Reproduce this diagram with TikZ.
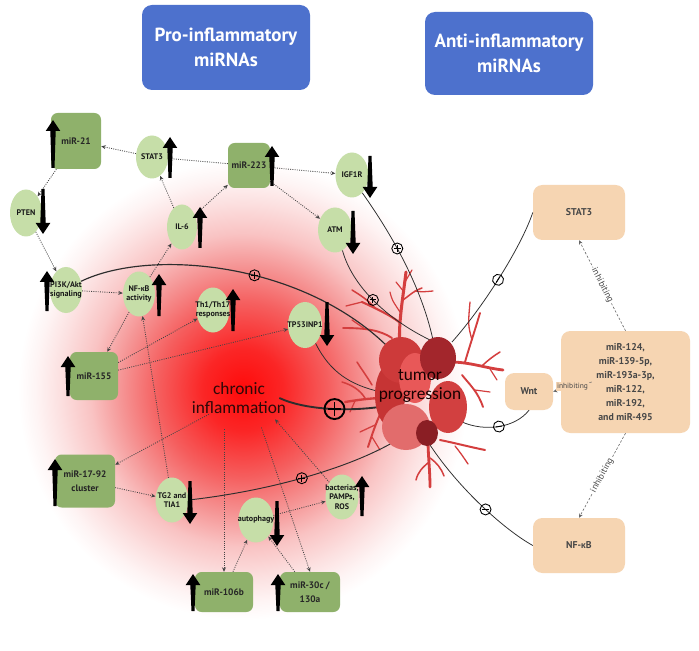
\documentclass[tikz,border=0pt]{standalone}
\usepackage{fontspec}
\setmainfont{PT Sans}
\newfontfamily\calib{Carlito}
\newfontfamily\grk{Carlito}
\usetikzlibrary{shapes.geometric,arrows.meta,calc}
\definecolor{gdark}{RGB}{143,177,107}
\definecolor{glight}{RGB}{198,222,168}
\definecolor{peach}{RGB}{246,213,178}
\definecolor{tblue}{RGB}{77,113,205}
\definecolor{dotc}{RGB}{68,68,68}
\definecolor{linec}{RGB}{45,45,45}
\definecolor{vess}{RGB}{212,62,62}
\definecolor{chrc}{RGB}{45,8,8}
\definecolor{glowA}{RGB}{255,10,10}
\definecolor{glowB}{RGB}{251,38,38}
\definecolor{glowC}{RGB}{245,95,95}
\definecolor{glowD}{RGB}{245,148,148}
\definecolor{glowE}{RGB}{249,195,195}
\definecolor{glowF}{RGB}{252,225,225}
\definecolor{glowG}{RGB}{254,244,244}
\definecolor{blobA}{RGB}{205,58,58}
\definecolor{blobB}{RGB}{163,38,44}
\definecolor{blobC}{RGB}{232,88,88}
\definecolor{blobD}{RGB}{198,52,52}
\definecolor{blobE}{RGB}{210,64,64}
\definecolor{blobF}{RGB}{226,108,108}
\definecolor{blobG}{RGB}{138,30,36}
\pgfdeclareradialshading{glow}{\pgfpoint{0bp}{0bp}}{color(0bp)=(glowA); color(4.5bp)=(glowB); color(9.5bp)=(glowC); color(13.5bp)=(glowD); color(17bp)=(glowE); color(20.5bp)=(glowF); color(23bp)=(glowG); color(25bp)=(white); color(50bp)=(white)}
\newcommand\bigarr[3]{%
  \pgfmathsetmacro\hb{#3+11*sign(#2-#3)}%
  \fill[black] (#1-1.5,#2) -- (#1+1.5,#2) -- (#1+2.7,\hb) -- (#1+7.3,\hb) -- (#1,#3) -- (#1-7.3,\hb) -- (#1-2.7,\hb) -- cycle;}
\newcommand\blob[5]{\fill[#5] (#1,#2) ellipse [x radius=#3*0.03cm, y radius=#4*0.03cm];}
\tikzset{
  gbox/.style={rectangle, rounded corners=0.2cm, fill=gdark, inner sep=0pt, align=center,
    font=\bfseries\fontsize{8}{12}\selectfont, text=black!85},
  lel/.style={ellipse, fill=glight, draw=none, inner sep=0pt},
  lab/.style={font=\bfseries\fontsize{6.9}{8}\selectfont, align=center, text=black!90, inner sep=0pt},
  pbox/.style={rectangle, rounded corners=0.28cm, fill=peach, inner sep=0pt, align=center,
    font=\bfseries\fontsize{8.4}{12}\selectfont, text=black!72},
  tbox/.style={rectangle, rounded corners=0.3cm, fill=tblue, text=white, inner sep=0pt, align=center,
    font=\bfseries\fontsize{16.2}{21}\selectfont},
  dotarr/.style={draw=dotc, line width=0.7pt, dash pattern=on 0.8pt off 1.1pt, -{Stealth[length=3.8pt,width=3.4pt]}},
  inharr/.style={draw=black!60, line width=0.5pt, dash pattern=on 2pt off 1.5pt, -{Stealth[length=3.6pt,width=3.2pt]}},
  inhlab/.style={font=\fontsize{7.8}{8}\selectfont, text=black!72, fill=white, inner sep=1pt},
  sline/.style={draw=linec, line width=0.65pt},
  vessel/.style={draw=vess, line cap=round, line join=round},
  sgn/.style={circle, draw=black, line width=0.75pt, inner sep=0pt, minimum size=0.33cm},
  splus/.style={sgn, path picture={\draw[line width=0.75pt]
     ([xshift=-0.1cm]path picture bounding box.center) -- ([xshift=0.1cm]path picture bounding box.center)
     ([yshift=-0.1cm]path picture bounding box.center) -- ([yshift=0.1cm]path picture bounding box.center);}},
  sminus/.style={sgn, path picture={\draw[line width=0.75pt]
     ([xshift=-0.1cm]path picture bounding box.center) -- ([xshift=0.1cm]path picture bounding box.center);}},
  bplus/.style={circle, draw=black, line width=1.6pt, inner sep=0pt, minimum size=0.6cm,
     path picture={\draw[line width=1.5pt]
     ([xshift=-0.2cm]path picture bounding box.center) -- ([xshift=0.2cm]path picture bounding box.center)
     ([yshift=-0.2cm]path picture bounding box.center) -- ([yshift=0.2cm]path picture bounding box.center);}},
}
\begin{document}
\begin{tikzpicture}[x=0.03cm,y=-0.03cm]
\useasboundingbox (0,0) rectangle (699,651);
\fill[white] (0,0) rectangle (699,651);
% red glow
\shade[shading=glow] (243,390) ellipse [x radius=6.75cm, y radius=6.9cm];

% titles
\node[tbox, minimum width=168*0.03cm, minimum height=85*0.03cm] (pro) at (226,47.5) {Pro-inflammatory\\miRNAs};
\node[tbox, minimum width=168*0.03cm, minimum height=83*0.03cm] (anti) at (509,53.5) {Anti-inflammatory\\miRNAs};

% green boxes
\node[gbox, minimum width=50*0.03cm, minimum height=56*0.03cm] (m21) at (76,141) {miR-21};
\node[gbox, minimum width=42*0.03cm, minimum height=45*0.03cm] (m223) at (249,165.5) {miR-223};
\node[gbox, minimum width=48*0.03cm, minimum height=48*0.03cm] (m155) at (94,376) {miR-155};
\node[gbox, minimum width=60*0.03cm, minimum height=53*0.03cm] (m1792) at (85,481) {miR-17-92\\cluster};
\node[gbox, minimum width=58*0.03cm, minimum height=40*0.03cm] (m106) at (224,592) {miR-106b};
\node[gbox, minimum width=60*0.03cm, minimum height=40*0.03cm, font=\bfseries\fontsize{8}{11.5}\selectfont] (m30) at (310,592) {miR-30c /\\130a};

% light ellipses
\node[lel, minimum width=32*0.03cm, minimum height=43*0.03cm, label={[lab]center:STAT3}] (stat3) at (152,157) {};
\node[lel, minimum width=32*0.03cm, minimum height=47*0.03cm, label={[lab]center:PTEN}] (pten) at (26,213) {};
\node[lel, minimum width=30*0.03cm, minimum height=45*0.03cm, label={[lab]center:IL-6}] (il6) at (182,227) {};
\node[lel, minimum width=32*0.03cm, minimum height=46*0.03cm, label={[lab]center:PI3K/Akt\\signaling}] (pi3k) at (66,290) {};
\node[lel, minimum width=32*0.03cm, minimum height=45*0.03cm, label={[lab]center:NF-{\grk κ}B\\activity}] (nfkb) at (139,294) {};
\node[lel, minimum width=33*0.03cm, minimum height=45*0.03cm, label={[lab]center:Th1/Th17\\responses}] (th) at (213,310) {};
\node[lel, minimum width=34*0.03cm, minimum height=46*0.03cm, label={[lab]center:TP53INP1}] (tp53) at (305,325) {};
\node[lel, minimum width=33*0.03cm, minimum height=45*0.03cm, label={[lab]center:IGF1R}] (igf) at (352,175) {};
\node[lel, minimum width=34*0.03cm, minimum height=45*0.03cm, label={[lab]center:ATM}] (atm) at (335,230) {};
\node[lel, minimum width=33*0.03cm, minimum height=45*0.03cm, label={[lab]center:TG2 and\\TIA1}] (tg2) at (172,500) {};
\node[lel, minimum width=35*0.03cm, minimum height=45*0.03cm, label={[lab]center:autophagy}] (auto) at (256,520) {};
\node[lel, minimum width=33*0.03cm, minimum height=45*0.03cm, label={[lab]center:bacterias,\\PAMPs,\\ROS}] (bact) at (342,497) {};

% tan boxes
\node[pbox, minimum width=92*0.03cm, minimum height=55*0.03cm] (tstat) at (579,212.5) {STAT3};
\node[pbox, minimum width=48*0.03cm, minimum height=37*0.03cm] (wnt) at (529,391.5) {Wnt};
\node[pbox, minimum width=129*0.03cm, minimum height=102*0.03cm] (mlist) at (625.5,382) {miR-124,\\miR-139-5p,\\miR-193a-3p,\\miR-122,\\miR-192,\\and miR-495};
\node[pbox, minimum width=92*0.03cm, minimum height=55*0.03cm] (tnf) at (579,545.5) {NF-{\grk κ}B};

% chronic inflammation
\node[font=\calib\fontsize{14.8}{17}\selectfont, text=chrc, align=center, inner sep=0pt] (chronic) at (239,398) {chronic\\inflammation};

% dotted arrows
\draw[dotarr] (stat3) -- (m21);
\draw[dotarr] (m223) -- (stat3);
\draw[dotarr] (m223) -- (igf);
\draw[dotarr] (m223) -- (atm);
\draw[dotarr] (il6) -- (m223);
\draw[dotarr] (il6) -- (stat3);
\draw[dotarr] (m21) -- (pten);
\draw[dotarr] (pten) -- (pi3k);
\draw[dotarr] (pi3k) -- (nfkb);
\draw[dotarr] (nfkb) -- (il6);
\draw[dotarr] (nfkb) -- (m155);
\draw[dotarr] (m155) -- (th);
\draw[dotarr] (m155) -- (tp53);
\draw[dotarr] (tg2) -- (nfkb);
\draw[dotarr] (chronic) -- (m1792);
\draw[dotarr] (m1792) -- (tg2);
\draw[dotarr, shorten <=0.45cm] (chronic.south -| m106.north) -- (m106.north);
\draw[dotarr, shorten <=0.42cm] ([xshift=0.54cm]chronic.south) -- (m30.north);
\draw[dotarr] (m106) -- (auto);
\draw[dotarr] (m30) -- (auto);
\draw[dotarr] (auto) -- (bact);
\draw[dotarr] (bact) -- ($(chronic.south)+(36,5)$);

% inhibiting arrows
\draw[inharr] (mlist.north) -- node[inhlab, sloped] {inhibiting} (tstat.south);
\draw[inharr] (mlist.south) -- node[inhlab, sloped] {inhibiting} (tnf.north);
\draw[inharr] ([xshift=0.93cm]mlist.west) -- node[inhlab, fill=peach, font=\fontsize{6.4}{7}\selectfont] {inhibiting} (wnt.east);

% tumour vessels
\draw[vessel, line width=2.6pt] (400,350) .. controls (398,325) and (402,305) .. (406,272);
\draw[vessel, line width=1.8pt] (399,322) .. controls (390,315) and (375,308) .. (362,302);
\draw[vessel, line width=1.3pt] (375,308) .. controls (368,300) and (360,295) .. (352,290);
\draw[vessel, line width=1.1pt] (362,302) -- (346,306);
\draw[vessel, line width=1.6pt] (392,338) .. controls (380,330) and (365,328) .. (343,328);
\draw[vessel, line width=1.1pt] (365,329) -- (352,320);
\draw[vessel, line width=1.3pt] (403,300) .. controls (410,295) and (415,290) .. (422,288);
\draw[vessel, line width=1pt] (404,292) -- (396,282);
\draw[vessel, line width=1pt] (405,282) -- (412,270);
\draw[vessel, line width=1.1pt] (415,291) .. controls (422,292) .. (433,291);
\draw[vessel, line width=1pt] (400,312) .. controls (392,300) .. (390,292);
\draw[vessel, line width=2.4pt] (450,362) .. controls (470,362) and (485,368) .. (503,370);
\draw[vessel, line width=1.6pt] (465,362) .. controls (470,345) and (475,330) .. (480,313);
\draw[vessel, line width=1.1pt] (472,340) .. controls (468,325) .. (470,302);
\draw[vessel, line width=1.3pt] (482,366) .. controls (488,360) and (495,355) .. (500,352);
\draw[vessel, line width=1.6pt] (462,375) .. controls (470,385) and (478,392) .. (483,407);
\draw[vessel, line width=1pt] (475,390) -- (490,392);
\draw[vessel, line width=1pt] (490,369) -- (497,380);
\draw[vessel, line width=2pt] (385,398) .. controls (370,398) and (358,400) .. (345,402);
\draw[vessel, line width=1.3pt] (365,398) .. controls (360,390) and (352,385) .. (342,382);
\draw[vessel, line width=1.3pt] (372,385) .. controls (366,375) and (362,370) .. (357,362);
\draw[vessel, line width=1.7pt] (382,410) .. controls (375,425) and (372,435) .. (368,447);
\draw[vessel, line width=1.1pt] (375,425) -- (360,432);
\draw[vessel, line width=1pt] (372,437) -- (380,450);
\draw[vessel, line width=1pt] (355,401) -- (350,412);
\draw[vessel, line width=2.4pt] (428,440) .. controls (428,455) and (430,470) .. (430,487);
\draw[vessel, line width=1.3pt] (429,462) .. controls (422,468) and (418,472) .. (416,480);
\draw[vessel, line width=1.3pt] (430,458) .. controls (437,463) and (441,468) .. (444,476);
\draw[vessel, line width=1.7pt] (440,440) .. controls (455,443) and (470,447) .. (485,450);
\draw[vessel, line width=1.1pt] (455,446) .. controls (460,452) and (464,458) .. (468,464);

% line end points at the tumour
\coordinate (e1) at (386,345);
\coordinate (e2) at (381,392);
\coordinate (e3) at (433,340);
\coordinate (e4) at (430,340);
\coordinate (e5) at (392,443);
\coordinate (e6) at (386,406);
\coordinate (e7) at (452,342);
\coordinate (e8) at (462,422);
\coordinate (e9) at (430,445);

% solid connectors with signs
\draw[sline, line width=1pt] (pi3k.30) .. controls (150,248) and (300,262) .. (e1) node[splus, pos=.58] {};
\draw[sline] (tp53.-60) .. controls (330,372) and (350,385) .. (e2);
\draw[sline] (igf.-60) .. controls (385,225) and (420,280) .. (e3) node[splus, pos=.45] {};
\draw[sline] (atm.-70) .. controls (352,285) and (385,318) .. (e4) node[splus, pos=.5] {};
\draw[sline, line width=0.8pt] (tg2.east) .. controls (260,492) and (340,472) .. (e5) node[splus, pos=.52] {};
\draw[line width=1.6pt, draw=linec] ([xshift=-0.21cm]chronic.east) .. controls (305,410) and (350,412) .. (e6) node[bplus, pos=.55] {};
\draw[sline] (tstat.west) .. controls (522,245) and (485,305) .. (e7) node[sminus, sloped, pos=.53] {};
\draw[sline] (wnt.south) .. controls (515,428) and (485,432) .. (e8) node[sminus, sloped, pos=.5] {};
\draw[sline] (tnf.west) .. controls (505,530) and (460,490) .. (e9) node[sminus, pos=.47] {};

% tumour blobs
\blob{390}{395}{15}{31}{blobD}
\blob{401}{360}{22}{23}{blobA}
\blob{406}{427}{24}{23}{blobF}
\blob{448}{407}{19}{26}{blobE}
\blob{415}{378}{16}{25}{blobC}
\blob{438}{358}{18}{21}{blobB}
\blob{427}{433}{11}{13}{blobG}
\node[font=\calib\fontsize{14.8}{17}\selectfont, text=black!90!red, align=center, inner sep=0pt] (tumtxt) at (420,386) {tumor\\progression};

% big up/down arrows
\bigarr{53}{168}{120}
\bigarr{272}{186}{146}
\bigarr{68}{396}{356}
\bigarr{55}{506}{459}
\bigarr{193}{611}{574}
\bigarr{278}{611}{574}
\bigarr{170}{178}{137}
\bigarr{43}{189}{234}
\bigarr{200}{248}{207}
\bigarr{47}{311}{271}
\bigarr{159}{316}{274}
\bigarr{233}{331}{289}
\bigarr{327}{302}{346}
\bigarr{370}{156}{198}
\bigarr{353}{211}{254}
\bigarr{190}{481}{524}
\bigarr{277}{501}{546}
\bigarr{362}{516}{476}
\end{tikzpicture}
\end{document}
